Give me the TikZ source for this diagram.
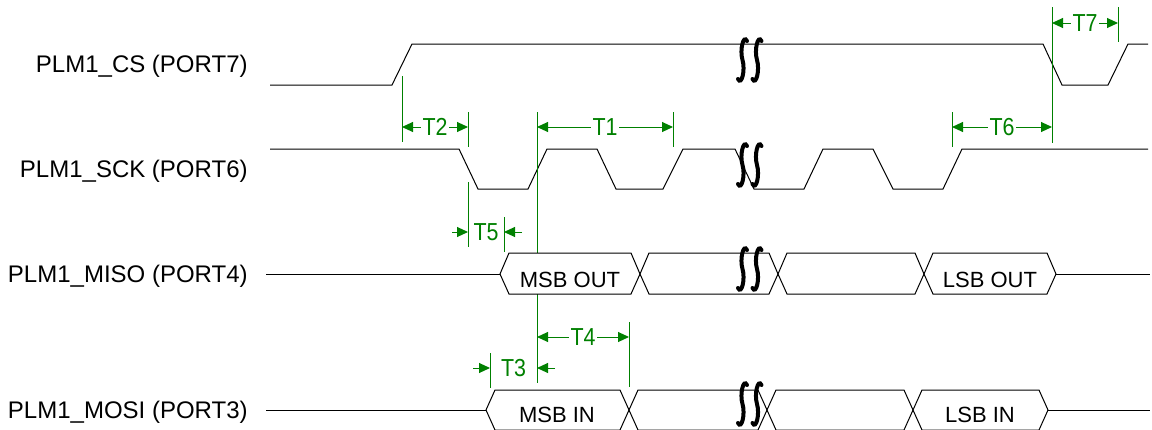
\documentclass[tikz,border=0pt]{standalone}
\usepackage{fontspec}
\setmainfont{Liberation Sans}
\usetikzlibrary{arrows.meta}

\definecolor{tgreen}{RGB}{0,128,0}

% break mark: two integral-like strokes centred at (#1,#2)
\newcommand{\brkmark}[2]{%
  \foreach \dx in {0,14.5} {
    \draw[brk] ({#1+\dx+4.5},{#2-19}) .. controls ({#1+\dx+1},{#2-26}) and ({#1+\dx-3},{#2-10}) .. ({#1+\dx},#2)
      .. controls ({#1+\dx+3},{#2+10}) and ({#1+\dx-1},{#2+26}) .. ({#1+\dx-4.5},{#2+19});
  }}

\begin{document}
\begin{tikzpicture}[x=0.5pt, y=-0.5pt,
    wave/.style={line width=0.5pt},
    bus/.style={line width=0.5pt, fill=white},
    tline/.style={draw=tgreen, line width=0.5pt},
    dim/.style={tline, {Triangle[length=5.5pt,width=5pt]}-{Triangle[length=5.5pt,width=5pt]}},
    tip/.style={tline, -{Triangle[length=5.5pt,width=5pt]}},
    tlabel/.style={fill=white, text=tgreen, inner sep=1pt, font=\fontsize{12.3}{14}\selectfont, xscale=0.87},
    sig/.style={anchor=base east, inner sep=0pt, font=\fontsize{12}{14}\selectfont},
    data/.style={anchor=base, font=\fontsize{11}{13}\selectfont},
    brk/.style={line width=2pt, line cap=round}]
    \useasboundingbox (0,0) rectangle (1152,429);
    \clip (0,0) rectangle (1152,429);

    % Signal names
    \node[sig] (nCS) at (248,72) {PLM1\_CS (PORT7)};
    \node[sig] (nSCK) at (248,177) {PLM1\_SCK (PORT6)};
    \node[sig] (nMISO) at (248,282) {PLM1\_MISO (PORT4)};
    \node[sig] (nMOSI) at (248,418) {PLM1\_MOSI (PORT3)};

    % Chip select and clock
    \draw[wave] (270,85) -- (392,85) -- (412,44) -- (1043,44) -- (1062,85) -- (1108,85) -- (1128,44) -- (1148,44);
    \draw[wave] (270,149) -- (459,149) -- (478,189) -- (528,189) -- (547,149) -- (597,149) -- (616,189) -- (663,189)
        -- (683,149) -- (735,149) -- (754,189) -- (804,189) -- (823,149) -- (873,149) -- (893,189) -- (943,189)
        -- (962,149) -- (1148,149);

    % Timing markers
    \foreach \x/\ya/\yb in {402/76/142, 468/112/147, 468/182/247, 537/112/383, 673/112/147, 952/112/147,
        1052/7/143, 1118/7/42, 504/217/252, 629/322/387, 490/353/388}
        \draw[tline] (\x,\ya) -- (\x,\yb);

    % Data lines
    \draw[wave] (266,274) -- (500,274);
    \foreach \a/\b in {500/640, 640/778, 778/924, 924/1056}
        \draw[bus] (\a,274) -- (\a+9,253) -- (\b-9,253) -- (\b,274) -- (\b-9,294) -- (\a+9,294) -- cycle;
    \draw[wave] (1056,274) -- (1150,274);
    \draw[wave] (266,410) -- (486,410);
    \foreach \a/\b in {486/629, 629/767, 767/913, 913/1048}
        \draw[bus] (\a,410) -- (\a+9,390) -- (\b-9,390) -- (\b,410) -- (\b-9,430) -- (\a+9,430) -- cycle;
    \draw[wave] (1048,410) -- (1150,410);
    \node[data] (dMSBo) at (570,287) {MSB OUT};
    \node[data] (dLSBo) at (990,287) {LSB OUT};
    \node[data] (dMSBi) at (557,422) {MSB IN};
    \node[data] (dLSBi) at (980,422) {LSB IN};

    % Draw break marks
    \brkmark{742.5}{60}
    \brkmark{742.5}{165}
    \brkmark{742.5}{269}
    \brkmark{742.5}{404}

    % Timing arrows
    \coordinate (t2a) at (402,127); \coordinate (t2b) at (468,127);
    \coordinate (t1a) at (537,127); \coordinate (t1b) at (673,127);
    \coordinate (t6a) at (952,127); \coordinate (t6b) at (1052,127);
    \coordinate (t7a) at (1052,23); \coordinate (t7b) at (1118,23);
    \coordinate (t4a) at (537,337); \coordinate (t4b) at (629,337);
    \draw[dim] (t2a) -- node[tlabel] (lT2) {T2} (t2b);
    \draw[dim] (t1a) -- node[tlabel] (lT1) {T1} (t1b);
    \draw[dim] (t6a) -- node[tlabel] (lT6) {T6} (t6b);
    \draw[dim] (t7a) -- node[tlabel] (lT7) {T7} (t7b);
    \draw[dim] (t4a) -- node[tlabel] (lT4) {T4} (t4b);

    \coordinate (t5o) at (452,232); \coordinate (t5a) at (468,232);
    \coordinate (t5p) at (522,232); \coordinate (t5b) at (504,232);
    \draw[tip] (t5o) -- (t5a);
    \draw[tip] (t5p) -- (t5b);
    \node[tlabel] (lT5) at (486,232) {T5};

    \coordinate (t3o) at (473,368); \coordinate (t3a) at (490,368);
    \coordinate (t3p) at (555,368); \coordinate (t3b) at (537,368);
    \draw[tip] (t3o) -- (t3a);
    \draw[tip] (t3p) -- (t3b);
    \node[tlabel] (lT3) at (513.5,368) {T3};
\end{tikzpicture}
\end{document}
